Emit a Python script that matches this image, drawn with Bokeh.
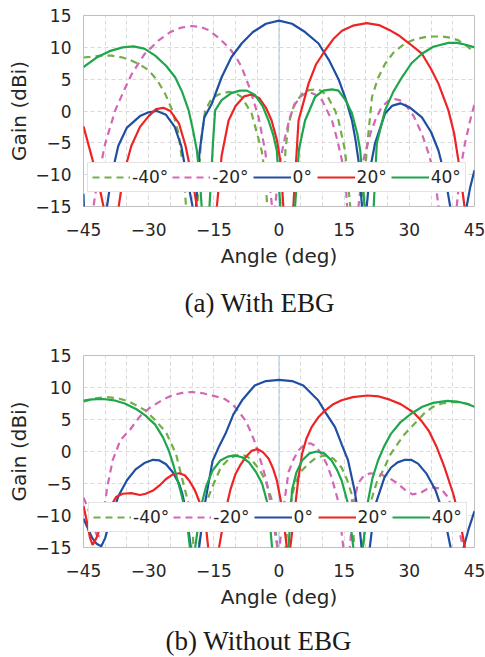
from bokeh.plotting import figure
from bokeh.models import Legend, LegendItem, Span, FixedTicker, Range1d
from bokeh.core.properties import value
from bokeh.layouts import column
from bokeh.embed import file_html
from bokeh.resources import INLINE

series_labels = ["-40°", "-20°", "0°", "20°", "40°"]
x_ticks = [-45, -30, -15, 0, 15, 30, 45]
x_grid = list(range(-45, 46, 5))
y_ticks = [-15, -10, -5, 0, 5, 10, 15]
captions = ["(a) With EBG", "(b) Without EBG"]

# (a) With EBG : (angle deg, gain dBi)
a_m40 = [(-45,8.4),(-43.5,8.5),(-41,8.7),(-38.5,8.7),(-36,8.4),(-33.9,7.9),(-32,7.3),(-30,6.4),(-28,4.8),(-26.2,2.7),(-24.5,0.0),(-23.1,-3.6),(-22,-9.3),(-21.4,-15),(-20.2,-28),(-18.8,-15),(-18,-5),(-17,0),(-15.5,2.0),(-13.9,2.6),(-11.6,3.0),(-10,2.8),(-8.6,2.2),(-6.3,-0.4),(-4,-6.2),(-3.2,-10),(-2.7,-15),(-1,-28),(0.8,-15),(1.5,-6),(2.2,-2),(3.5,1.0),(5.3,2.7),(7,3.3),(9.1,3.4),(11,2.5),(12.9,0.1),(13.7,-1.5),(15.2,-6.2),(16.4,-15),(17.8,-28),(19.1,-15),(20.2,-6.2),(21.4,2.2),(22.8,5.2),(24.4,7.4),(26.5,9.3),(29,10.6),(31,11.2),(33.6,11.6),(35.5,11.7),(37.5,11.7),(39.5,11.5),(41.3,11.1),(43,10.3),(45,9.3)]
a_m20 = [(-43.6,-28),(-42.7,-15),(-41.9,-11.4),(-40,-5.1),(-37.7,0.1),(-35.5,3.5),(-33.9,5.8),(-31,8.9),(-27.7,11.1),(-25,12.4),(-22.5,13.1),(-20.1,13.35),(-18,13.2),(-16.2,12.7),(-13.9,11.5),(-11.6,10.0),(-10,8.6),(-8.6,6.9),(-6.7,3.5),(-4.7,-1.0),(-3.2,-6.2),(-2,-12.5),(-1.6,-15),(-1.25,-28),(-0.9,-15),(0.2,-8),(1.4,-4.1),(2.5,-1.0),(3.7,1.1),(5.2,2.4),(6.8,3.0),(8.3,2.6),(9.9,1.7),(12.2,-1.5),(13.4,-4.5),(14.5,-7.8),(15.5,-13),(16.9,-28),(18.3,-15),(19.5,-7.5),(21,-3.6),(22.3,-1.2),(23.6,0.6),(25,1.5),(26.4,1.9),(27.8,1.7),(29,1.1),(31,-0.8),(32.9,-3.6),(34.5,-6.8),(35.9,-10.4),(36.7,-15),(38.8,-28),(40.9,-15),(41.8,-9),(42.8,-5.1),(44,-1.5),(45,1.1)]
a_0 = [(-45,-13),(-44.3,-28),(-39.6,-15),(-38.5,-10),(-37,-5.5),(-35,-2.6),(-32,-0.8),(-30,-0.2),(-28.1,0.0),(-26,-0.6),(-24,-2.5),(-22.5,-5.5),(-21.3,-10),(-19.9,-15),(-19.5,-28),(-19.1,-15),(-18.3,-6.5),(-17.2,-1.0),(-15.5,1.1),(-13.2,5.3),(-11,8.4),(-8.6,10.6),(-6,12.4),(-3,13.7),(0,14.2),(3,13.7),(6,12.4),(9.1,10.6),(11.5,8.0),(13.7,5.0),(15.3,2.0),(16.8,-1.5),(17.6,-4.5),(18.3,-7.8),(19.1,-15),(19.6,-28),(20.2,-15),(21,-9),(22.1,-5.1),(24.4,-0.4),(26,0.8),(27.9,1.2),(30,0.6),(32.9,-1.0),(35,-3.3),(36.7,-6.2),(38.3,-10.5),(39.4,-15),(41.3,-28),(43.2,-15),(44,-12),(45,-9.3)]
a_20 = [(-45,-2.4),(-43.1,-7.2),(-41.5,-11.4),(-40.4,-15),(-38.7,-28),(-36.9,-15),(-35.8,-10),(-34,-5.5),(-32,-2.5),(-30,-0.8),(-28.3,0.3),(-26.6,0.5),(-25,0.0),(-23,-2.0),(-21.5,-5.5),(-20,-10.5),(-18.9,-15),(-16.6,-28),(-14.3,-15),(-13.2,-7),(-11.6,-1.5),(-10,0.8),(-8,2.3),(-6.3,2.6),(-4.5,2.0),(-3,0.5),(-1.7,-1.5),(-0.5,-4.5),(0.3,-7.8),(1,-15),(2.2,-28),(3.3,-15),(4.5,-1.5),(6.8,4.3),(8.5,7.3),(10.6,9.5),(12.5,11.3),(14.5,12.6),(17,13.4),(20.2,13.8),(23,13.5),(25.5,12.7),(27.5,11.9),(30,10.6),(32.9,9.0),(35,6.6),(36.7,4.3),(39,0.1),(40.3,-3.5),(41.3,-7.8),(42.7,-15),(43.6,-28)]
a_40 = [(-45,6.9),(-42,8.4),(-39,9.4),(-36,10.0),(-33.5,10.15),(-31,9.8),(-28.5,8.7),(-26,7.1),(-23.9,5.3),(-22.3,3.0),(-20.8,0.1),(-19.8,-3),(-18.9,-6.2),(-18.2,-11),(-17.8,-15),(-17,-28),(-16,-15),(-15.2,-5),(-14.7,0.1),(-13.2,1.7),(-11,2.8),(-9,3.2),(-7.4,3.2),(-5.5,2.5),(-3.8,0.8),(-2.4,-1.5),(-1.3,-3.8),(-0.5,-6.2),(0.3,-15),(2,-28),(3.7,-15),(4.6,-6),(6,-1.5),(8.3,2.2),(10.2,3.2),(12.2,3.4),(13.7,3.2),(15.5,1.5),(16.8,-0.4),(18,-3.5),(18.7,-6.2),(19.7,-15),(20.7,-28),(21.8,-15),(22.5,-5.1),(24.4,0.1),(26.3,3.0),(28.3,5.3),(30.5,7.5),(32.9,9.0),(35.5,10.1),(39,10.7),(41,10.7),(43,10.4),(45,10.0)]

# (b) Without EBG
b_m40 = [(-45,7.8),(-42.5,8.3),(-39.7,8.5),(-37,8.3),(-34.5,7.8),(-32.8,7.2),(-30.7,6.4),(-28.5,4.9),(-26,3.0),(-23.7,-0.4),(-22.2,-4.5),(-20.6,-8.7),(-19.8,-13),(-19.2,-28),(-18.5,-15),(-17.2,-9),(-15.7,-6.1),(-13.4,-2.5),(-11.3,-1.0),(-9.2,-0.5),(-7.5,-0.7),(-6.2,-1.4),(-4.6,-2.7),(-3.1,-4.5),(-1.6,-7.7),(-0.5,-13.9),(0.5,-28),(1.5,-15),(2.5,-8.5),(3.7,-5),(5.2,-3),(6.8,-1.9),(8.5,-1.0),(10.6,-0.6),(12.5,-1.1),(14.4,-2.5),(15.6,-4.3),(16.7,-6.6),(17.3,-15),(18.3,-28),(19.3,-15),(20.2,-10),(21.2,-7.7),(22.5,-4.8),(24.3,-2.5),(25.5,-0.6),(27.3,1.2),(28.8,2.6),(30.4,3.8),(32,4.9),(33.5,6.0),(35.5,7.0),(37.5,7.5),(39.5,7.7),(41,7.7),(43,7.5),(45,7.2)]
b_m20 = [(-45,-7.2),(-44,-8.8),(-43,-11),(-42,-13),(-41.3,-13.3),(-40.5,-10),(-39.5,-5.5),(-38.3,-1.4),(-36.5,1.8),(-34.3,3.4),(-32,5.5),(-29.8,6.8),(-27,8.0),(-24.5,8.8),(-22,9.2),(-20,9.3),(-17.5,9.1),(-15,8.7),(-12.5,8.2),(-10.7,7.4),(-9,6.0),(-7.7,4.8),(-6.5,3.1),(-5.4,1.2),(-4.2,-1.5),(-3.1,-4.0),(-2.3,-6.7),(-1.6,-9.2),(-0.8,-13.4),(0,-16),(1,-9),(2.2,-3.2),(3.3,-1.3),(4.5,0.2),(5.8,1.0),(7.2,1.3),(8.5,0.8),(9.8,-0.4),(11,-2.0),(12.1,-4.0),(13.6,-7.7),(14.8,-15),(15.5,-28),(16.3,-15),(17.2,-8),(18.2,-5.0),(19.5,-3.8),(21,-3.4),(23.5,-3.6),(25.5,-4.2),(27.3,-5.0),(29,-6.0),(30.7,-6.7),(32.5,-6.5),(34,-5.9),(35.5,-5.6),(37.3,-5.8),(38.7,-7.0),(40,-9),(41.5,-12.5),(42.4,-15),(43.2,-28)]
b_0 = [(-45,-10.5),(-44,-12),(-43,-13.5),(-42,-14.4),(-40.9,-14.8),(-40,-13.5),(-39.2,-11.5),(-38.4,-10),(-37,-7),(-35,-4.5),(-33,-2.8),(-31,-1.8),(-29,-1.3),(-27.5,-1.4),(-26,-2.0),(-24.5,-3.2),(-23,-5),(-22.3,-6.5),(-21.4,-9.2),(-20.3,-15),(-19.4,-28),(-18.4,-15),(-17.2,-8.7),(-15.3,-1.5),(-13.8,0.8),(-12.3,2.8),(-10.5,5.8),(-8.5,8.0),(-5.6,10.3),(-3,11.0),(0,11.2),(3,11.0),(5.6,10.3),(9,8.0),(10.8,6.0),(12.9,3.8),(14.5,1.0),(15.9,-1.4),(17.4,-6.1),(18.3,-10),(19,-15),(19.9,-28),(20.9,-15),(22,-8.7),(24.3,-4),(25.8,-2.5),(27.3,-1.7),(29,-1.3),(30.4,-1.3),(32,-1.9),(34,-3.5),(36,-6),(37.5,-9),(38.6,-12),(39.5,-15),(41,-28),(42.5,-15),(43.7,-12),(45,-9.3)]
b_20 = [(-45,-8.5),(-44.2,-11),(-43.5,-13.5),(-42.9,-14.6),(-42,-13.5),(-41,-11.5),(-40,-10.3),(-38.5,-8.3),(-37.5,-7.1),(-36,-6.6),(-34,-6.5),(-32,-6.8),(-30.7,-6.6),(-29,-6.1),(-27.5,-5.3),(-26,-4.3),(-24.5,-3.6),(-23,-3.4),(-21.7,-3.7),(-20.6,-4.6),(-19.4,-6),(-18.4,-7.7),(-17.5,-9.8),(-16.8,-11.8),(-16.3,-15),(-15,-28),(-13.8,-15),(-12.3,-9.2),(-11.2,-6),(-10,-3.5),(-8.8,-2),(-7.7,-0.9),(-6.3,0.1),(-5,0.4),(-3.7,-0.1),(-2.4,-1.1),(-1.4,-2.6),(-0.5,-4.5),(0.7,-8.7),(1.8,-15),(2.2,-28),(2.6,-15),(3.7,-8.7),(4.5,-4),(5.3,-0.4),(6.3,2),(7.5,3.8),(9,5.3),(10.6,6.4),(12.5,7.4),(14.4,8),(17,8.5),(20.3,8.75),(23,8.6),(25.5,8.1),(28,7.4),(31,6.1),(33,4.6),(34.5,3.2),(36.3,0.7),(38,-2.3),(40.1,-6.6),(41.5,-10.3),(42.8,-15),(43.5,-28)]
b_40 = [(-45,7.95),(-43,8.15),(-40.4,8.2),(-38,8.0),(-35.5,7.5),(-32.8,6.6),(-30.7,5.6),(-28.5,4.2),(-26.7,2.2),(-25.4,0.2),(-24.4,-1.9),(-22.5,-6.6),(-21.4,-9.7),(-20.5,-15),(-19.9,-28),(-19.3,-15),(-18,-8.7),(-16.8,-5.5),(-15.3,-3),(-13.5,-1.4),(-11.8,-0.8),(-10.3,-0.6),(-8.5,-0.9),(-6.9,-1.7),(-5.3,-3.2),(-3.9,-5),(-2.4,-8.7),(-1.6,-15),(0.3,-28),(2.2,-15),(3,-6),(4,-3.3),(5.3,-1.4),(7,-0.3),(8.7,0),(10.4,-0.3),(12.1,-1.4),(13.3,-2.8),(14.4,-4.5),(15.9,-8.2),(17.1,-15),(18.2,-28),(19.3,-15),(20.5,-7.7),(21.5,-4.2),(22.8,-1.4),(24.2,0.8),(25.8,2.8),(28,4.6),(30.4,5.9),(33,7.0),(35.5,7.6),(38.7,7.9),(41,7.8),(43,7.5),(45,7.0)]

colors = ["#72AE48", "#D466B6", "#1F4FA3", "#EE2424", "#1DA64B"]
dashes = ["7 5", "7 5", "solid", "solid", "solid"]
FONT = "DejaVu Sans"
TXT = "#262626"
W = 485
FRAME_L, FRAME_R = 83, 474


def make_panel(curves, height, border_left, border_top, frame_h, legend_loc):
    p = figure(width=W, height=height, output_backend="svg", toolbar_location=None,
               x_range=Range1d(-45, 45), y_range=Range1d(-15, 15),
               min_border_left=border_left, min_border_right=W - FRAME_R, min_border_top=border_top,
               min_border_bottom=height - border_top - frame_h,
               x_axis_label="Angle (deg)", y_axis_label="Gain (dBi)")
    p.background_fill_color = "white"
    p.border_fill_color = "white"
    p.outline_line_color = "#BFBFBF"
    p.xaxis.ticker = FixedTicker(ticks=x_ticks, minor_ticks=x_grid)
    p.yaxis.ticker = FixedTicker(ticks=y_ticks)
    for g in (p.xgrid[0], p.ygrid[0]):
        g.grid_line_color = "#D9D9D9"
        g.grid_line_dash = "4 3"
        g.grid_line_width = 1
    p.xgrid.minor_grid_line_color = "#D9D9D9"
    p.xgrid.minor_grid_line_dash = "4 3"
    for ax in (p.xaxis[0], p.yaxis[0]):
        ax.axis_line_color = None
        ax.major_tick_line_color = None
        ax.minor_tick_line_color = None
        ax.major_tick_out = 0
        ax.major_tick_in = 0
        ax.major_label_text_font = FONT
        ax.major_label_text_font_size = "17px"
        ax.major_label_text_color = TXT
        ax.axis_label_text_font = FONT
        ax.axis_label_text_font_size = "20px"
        ax.axis_label_text_font_style = "normal"
        ax.axis_label_text_color = TXT
    p.xaxis.major_label_standoff = 12
    p.xaxis.axis_label_standoff = 5
    p.yaxis.major_label_standoff = 12
    p.yaxis.axis_label_standoff = 2

    p.add_layout(Span(location=0, dimension="height", line_color="#9CCBEB", line_width=1, level="underlay"))

    items = []
    for lab, data, c, d in zip(series_labels, curves, colors, dashes):
        xs = [pt[0] for pt in data]
        ys = [pt[1] for pt in data]
        r = p.line(xs, ys, line_color=c, line_width=2.2, line_dash=d)
        items.append(LegendItem(label=lab, renderers=[r]))

    leg = Legend(items=items, location=legend_loc, orientation="horizontal",
                 glyph_width=38, glyph_height=18, label_height=18, label_standoff=2,
                 spacing=4, padding=4, margin=0,
                 label_text_font=FONT, label_text_font_size="17px", label_text_color=TXT,
                 border_line_color="#C8C8C8", background_fill_color="white", background_fill_alpha=1.0)
    p.add_layout(leg, "center")
    return p


def make_caption(text, height, left_x, cy_from_top):
    # the column aligns this frame with the chart frames above (x 83..474 on the page)
    c = figure(width=W, height=height, output_backend="svg", toolbar_location=None,
               x_range=Range1d(FRAME_L, FRAME_R), y_range=Range1d(0, height),
               x_axis_type=None, y_axis_type=None,
               min_border_left=FRAME_L, min_border_right=W - FRAME_R, min_border_top=0, min_border_bottom=0)
    c.grid.visible = False
    c.outline_line_color = None
    c.background_fill_color = "white"
    c.border_fill_color = "white"
    c.text(x=[left_x], y=[height - cy_from_top], text=[text], text_align="left",
           text_baseline="middle", text_font=value("Liberation Serif"),
           text_font_size="27px", text_color="#1A1A1A")
    return c


p1 = make_panel([a_m40, a_m20, a_0, a_20, a_40], 280, 83, 15, 191, (4, 14))
c1 = make_caption(captions[0], 50, 184, 22)
p2 = make_panel([b_m40, b_m20, b_0, b_20, b_40], 295, 83, 25, 192, (5, 15))
c2 = make_caption(captions[1], 32, 165, 15)

lay = column(p1, c1, p2, c2, spacing=0)
open("out.html", "w").write(file_html(lay, INLINE))
